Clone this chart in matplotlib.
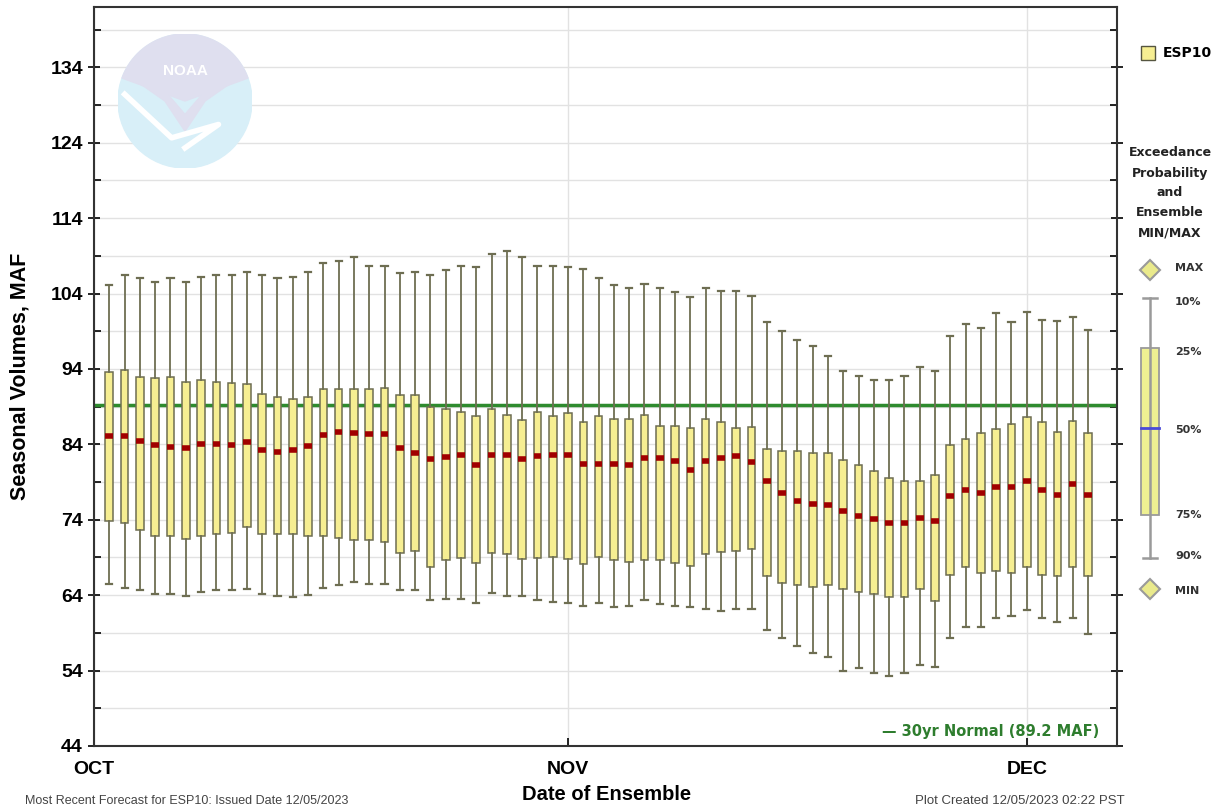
import numpy as np
import pandas as pd
import matplotlib
matplotlib.use("Agg")
import matplotlib.pyplot as plt
from matplotlib.patches import Rectangle, Circle, Wedge

plt.rcParams['font.family'] = ['Liberation Sans', 'DejaVu Sans']
wide = ['DejaVu Sans']

# ensemble dates (one box per day) and exceedance values, MAF
dates = pd.date_range("2023-10-02", "2023-12-05", freq="D")
exc10 = [105.2, 106.4, 106.0, 105.5, 106.0, 105.5, 106.2, 106.5, 106.5, 106.9,
         106.5, 106.0, 106.2, 106.9, 108.0, 108.3, 108.8, 107.7, 107.7, 106.7,
         106.9, 106.4, 107.1, 107.7, 107.5, 109.3, 109.7, 108.8, 107.7, 107.7,
         107.5, 107.2, 106.0, 105.2, 104.7, 105.3, 104.7, 104.2, 103.5, 104.7,
         104.3, 104.3, 103.7, 100.2, 99.0, 97.9, 97.1, 95.7, 93.7, 93.1,
         92.6, 92.6, 93.1, 94.3, 93.7, 98.4, 100.0, 99.4, 101.4, 100.2,
         101.5, 100.5, 100.3, 100.9, 99.2]
exc25 = [93.6, 93.9, 93.0, 92.8, 93.0, 92.3, 92.5, 92.3, 92.1, 92.0,
         90.7, 90.3, 90.0, 90.3, 91.3, 91.3, 91.3, 91.3, 91.5, 90.5,
         90.5, 88.9, 88.7, 88.3, 87.7, 88.7, 87.9, 87.2, 88.3, 87.7,
         88.1, 86.9, 87.7, 87.4, 87.4, 87.9, 86.5, 86.5, 86.2, 87.4,
         87.0, 86.2, 86.3, 83.4, 83.1, 83.1, 82.9, 82.9, 81.9, 81.2,
         80.5, 79.5, 79.1, 79.1, 79.9, 83.9, 84.7, 85.5, 86.0, 86.7,
         87.6, 86.9, 85.7, 87.1, 85.5]
exc50 = [85.1, 85.1, 84.5, 83.9, 83.6, 83.5, 84.1, 84.1, 83.9, 84.3,
         83.2, 83.0, 83.2, 83.8, 85.3, 85.7, 85.5, 85.4, 85.4, 83.5,
         82.9, 82.1, 82.3, 82.6, 81.3, 82.6, 82.6, 82.1, 82.5, 82.6,
         82.6, 81.4, 81.4, 81.4, 81.2, 82.2, 82.2, 81.8, 80.6, 81.8,
         82.2, 82.4, 81.7, 79.1, 77.5, 76.5, 76.1, 75.9, 75.1, 74.5,
         74.1, 73.6, 73.6, 74.3, 73.9, 77.1, 77.9, 77.5, 78.3, 78.3,
         79.1, 77.9, 77.3, 78.7, 77.3]
exc75 = [73.8, 73.6, 72.6, 71.8, 71.9, 71.4, 71.9, 72.1, 72.3, 73.0,
         72.1, 72.1, 72.1, 71.8, 71.9, 71.6, 71.3, 71.3, 71.0, 69.6,
         69.8, 67.7, 68.6, 68.9, 68.3, 69.6, 69.4, 68.8, 68.9, 69.1,
         68.8, 68.1, 69.1, 68.7, 68.4, 68.7, 68.7, 68.3, 67.9, 69.5,
         69.7, 69.9, 70.1, 66.6, 65.6, 65.3, 65.1, 65.4, 64.8, 64.4,
         64.1, 63.8, 63.8, 64.8, 63.2, 66.7, 67.8, 67.0, 67.2, 67.0,
         67.7, 66.7, 66.5, 67.8, 66.5]
exc90 = [65.5, 65.0, 64.7, 64.2, 64.2, 63.9, 64.4, 64.7, 64.7, 64.8,
         64.2, 63.9, 63.7, 64.0, 64.9, 65.3, 65.8, 65.5, 65.5, 64.7,
         64.7, 63.3, 63.5, 63.5, 62.9, 64.3, 63.9, 63.9, 63.3, 63.1,
         62.9, 62.6, 63.0, 62.4, 62.6, 63.4, 62.8, 62.6, 62.4, 62.2,
         61.9, 62.2, 62.2, 59.4, 58.3, 57.3, 56.3, 55.8, 54.0, 54.3,
         53.7, 53.3, 53.7, 54.7, 54.5, 58.3, 59.8, 59.8, 61.0, 61.3,
         62.0, 61.0, 60.4, 61.0, 58.8]
normal = 89.2

days = (dates - pd.Timestamp("2023-10-01")).days.values
month_pos = [0, 31, 61]
month_lab = ["OCT", "NOV", "DEC"]

box_fill = "#f6ee92"
box_edge = "#6e6e52"

fig = plt.figure(figsize=(12.16, 8.08), dpi=100)
ax = fig.add_axes([94/1216, 62/808, 1023/1216, 739/808])

stats = []
for i in range(len(days)):
    stats.append(dict(med=exc50[i], q1=exc75[i], q3=exc25[i],
                      whislo=exc90[i], whishi=exc10[i], fliers=[]))
ax.bxp(stats, positions=days, widths=0.5, patch_artist=True, showfliers=False,
       manage_ticks=False, capwidths=0.4,
       boxprops=dict(facecolor=box_fill, edgecolor=box_edge, linewidth=1.1),
       whiskerprops=dict(color=box_edge, linewidth=1.3),
       capprops=dict(color=box_edge, linewidth=1.6),
       medianprops=dict(color="#a00000", linewidth=4, solid_capstyle="butt"))

# 30 year normal
ax.axhline(normal, color="#2e8b2e", linewidth=2.5, zorder=1)

ax.set_xlim(0, 66.9)
ax.set_ylim(44, 142)
ax.set_yticks(np.arange(44, 135, 10))
ax.set_yticks(np.arange(49, 142, 10), minor=True)
ax.set_xticks(month_pos)
ax.set_xticklabels(month_lab)
ax.grid(True, which="both", axis="y", color="#e2e2e2", linewidth=1, zorder=0)
ax.grid(True, which="major", axis="x", color="#e2e2e2", linewidth=1, zorder=0)
ax.set_axisbelow(True)
ax.tick_params(axis="y", which="major", direction="inout", length=8, width=1.2, pad=4)
ax.tick_params(axis="y", which="minor", direction="in", length=5, width=1.2)
ax.tick_params(axis="x", direction="in", length=6, width=1.2, pad=11)
ax.tick_params(right=True, which="both")
for lab in ax.get_yticklabels() + ax.get_xticklabels():
    lab.set_fontweight("bold")
    lab.set_fontsize(14)
for s in ax.spines.values():
    s.set_color("#333333")
    s.set_linewidth(1.5)

ax.set_ylabel("Seasonal Volumes, MAF", fontsize=15.5, fontweight="bold", labelpad=14)
ax.text(0.983, 0.02, "\u2014 30yr Normal (89.2 MAF)", transform=ax.transAxes,
        ha="right", va="center", color="#2e7d2e", fontsize=10.5, fontweight="bold",
        family=wide)

# NOAA logo (faded)
logo = fig.add_axes([118/1216, (808-168)/808, 134/1216, 134/808])
logo.set_xlim(-1, 1)
logo.set_ylim(-1, 1)
logo.set_aspect("equal")
logo.axis("off")
logo.add_patch(Circle((0, 0), 1, color="#d8eff8"))
logo.add_patch(Wedge((0, 0), 1, 20, 160, color="#dfdfef"))
logo.fill([-0.8, -0.3, 0.0, 0.3, 0.8, 0.3, 0.0, -0.3], [0.35, 0.0, -0.45, 0.0, 0.35, 0.15, -0.2, 0.15],
          color="#dfdfef")
logo.plot([-0.9, -0.2, 0.5, 0.0], [0.1, -0.55, -0.35, -0.7], color="white", linewidth=4)
logo.text(0, 0.45, "NOAA", color="white", ha="center", va="center", fontsize=11, fontweight="bold")

# right-hand legend
lax = fig.add_axes([1117/1216, 0, 99/1216, 1])
lax.set_xlim(1117, 1216)
lax.set_ylim(808, 0)
lax.axis("off")
lax.add_patch(Rectangle((1141, 46), 14, 14, facecolor=box_fill, edgecolor="#555540", linewidth=1))
lax.text(1163, 53, "ESP10", fontsize=10, fontweight="bold", va="center", family=wide)
lax.text(1170, 193, "Exceedance\nProbability\nand\nEnsemble\nMIN/MAX", ha="center", va="center",
         fontsize=9, fontweight="bold", linespacing=1.7, family=wide, color="#222222")
lax.plot([1150], [270], marker="D", markersize=10, markerfacecolor="#eaea8c", markeredgecolor="#9a9a9a",
         markeredgewidth=1.5)
lax.plot([1150], [589], marker="D", markersize=10, markerfacecolor="#eaea8c", markeredgecolor="#9a9a9a",
         markeredgewidth=1.5)
lax.plot([1150, 1150], [298, 558], color="#9a9a9a", linewidth=1.8)
lax.plot([1143, 1157], [298, 298], color="#9a9a9a", linewidth=1.8)
lax.plot([1143, 1157], [558, 558], color="#9a9a9a", linewidth=1.8)
lax.add_patch(Rectangle((1141, 348), 18, 167, facecolor="#eef092", edgecolor="#9a9a9a", linewidth=1.3))
lax.plot([1141, 1159], [428, 428], color="#4a4ad8", linewidth=2)
for yy, txt in [(268, "MAX"), (302, "10%"), (352, "25%"), (430, "50%"),
                (515, "75%"), (556, "90%"), (591, "MIN")]:
    lax.text(1175, yy, txt, fontsize=8, fontweight="bold", va="center", color="#333333", family=wide)

fig.text(607/1216, 1 - 795/808, "Date of Ensemble", ha="center", va="center",
         fontsize=14.5, fontweight="bold")
fig.text(25/1216, 1 - 801/808, "Most Recent Forecast for ESP10: Issued Date 12/05/2023",
         ha="left", va="center", fontsize=9, color="#444444")
fig.text(915/1216, 1 - 801/808, "Plot Created 12/05/2023 02:22 PST",
         ha="left", va="center", fontsize=9.5, color="#444444")

fig.savefig("out.png", dpi=100, facecolor="white")
